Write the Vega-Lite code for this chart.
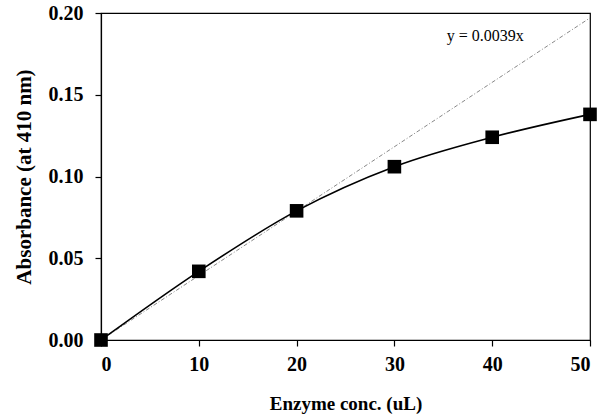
{
  "$schema": "https://vega.github.io/schema/vega-lite/v6.json",
  "autosize": {"type": "none"},
  "width": 489,
  "height": 327,
  "padding": {"left": 101, "top": 13, "right": 19, "bottom": 79},
  "background": "white",
  "config": {
    "view": {"stroke": "black", "strokeWidth": 1.2},
    "font": "Liberation Serif",
    "axis": {
      "grid": false,
      "domainColor": "black",
      "domainWidth": 1.2,
      "tickColor": "black",
      "tickSize": 6,
      "tickWidth": 1.2,
      "labelFont": "Liberation Serif",
      "labelFontWeight": "bold",
      "labelFontSize": 20,
      "labelColor": "black",
      "titleFont": "Liberation Serif",
      "titleFontWeight": "bold",
      "titleColor": "black"
    }
  },
  "datasets": {
    "pts": [
      {"x": 0, "y": 0.0},
      {"x": 10, "y": 0.042},
      {"x": 20, "y": 0.079},
      {"x": 30, "y": 0.106},
      {"x": 40, "y": 0.124},
      {"x": 50, "y": 0.138}
    ],
    "fit": [
      {"x": 0, "y": 0.0},
      {"x": 50, "y": 0.197}
    ],
    "lbl": [
      {"x": 39.3, "y": 0.186, "t": "y = 0.0039x"}
    ]
  },
  "layer": [
    {
      "data": {"name": "fit"},
      "mark": {"type": "line", "color": "#888888", "strokeWidth": 1, "strokeDash": [4, 2, 1, 2]},
      "encoding": {
        "x": {"field": "x", "type": "quantitative", "scale": {"domain": [0, 50]},
          "axis": {"values": [0, 10, 20, 30, 40, 50], "title": "Enzyme conc. (uL)", "titleFontSize": 19, "labelPadding": 8, "titlePadding": 20}},
        "y": {"field": "y", "type": "quantitative", "scale": {"domain": [0, 0.2]},
          "axis": {"values": [0, 0.05, 0.1, 0.15, 0.2], "format": ".2f", "title": "Absorbance (at 410 nm)", "titleFontSize": 21, "labelPadding": 12, "titlePadding": 14}}
      }
    },
    {
      "data": {"name": "pts"},
      "mark": {"type": "line", "interpolate": "monotone", "color": "black", "strokeWidth": 1.6},
      "encoding": {
        "x": {"field": "x", "type": "quantitative"},
        "y": {"field": "y", "type": "quantitative"}
      }
    },
    {
      "data": {"name": "pts"},
      "mark": {"type": "point", "shape": "square", "filled": true, "color": "black", "size": 185, "opacity": 1},
      "encoding": {
        "x": {"field": "x", "type": "quantitative"},
        "y": {"field": "y", "type": "quantitative"}
      }
    },
    {
      "data": {"name": "lbl"},
      "mark": {"type": "text", "font": "Liberation Serif", "fontSize": 16, "color": "black", "align": "center", "baseline": "middle"},
      "encoding": {
        "x": {"field": "x", "type": "quantitative"},
        "y": {"field": "y", "type": "quantitative"},
        "text": {"field": "t"}
      }
    }
  ]
}
